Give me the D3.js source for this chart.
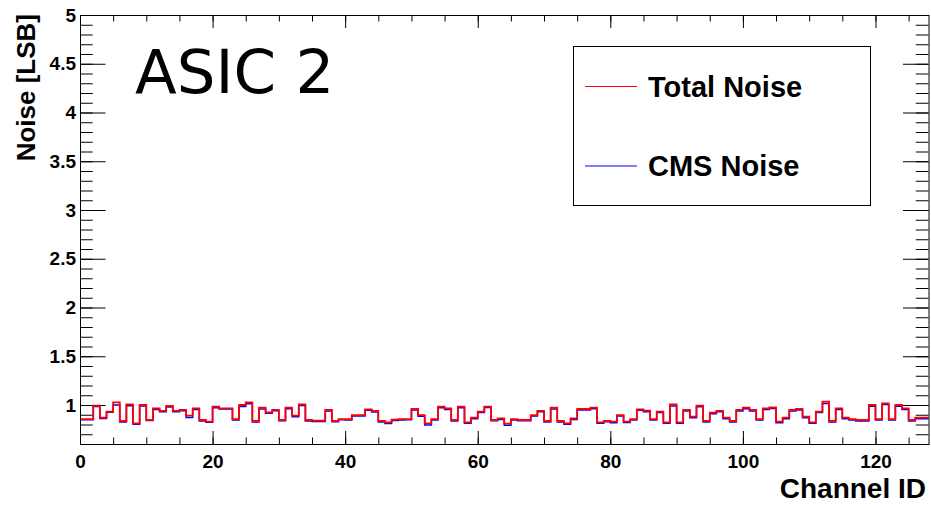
<!DOCTYPE html>
<html>
<head>
<meta charset="utf-8">
<script src="https://cdn.jsdelivr.net/npm/d3@7"></script>
<style>
  body { margin: 0; background: #fff; }
  svg { display: block; }
  text { font-family: "Liberation Sans", Arial, sans-serif; font-weight: bold; fill: #000; }
</style>
</head>
<body>
<svg id="chart" width="931" height="505"></svg>
<script>
// Per-channel noise of ASIC 2, in ADC LSB
const channels = d3.range(128);
const totalNoise = [
  0.856, 0.856, 0.993, 0.870, 0.932, 1.027, 0.836, 1.007, 0.812, 1.000, 0.846, 0.966, 0.939, 0.990, 0.939, 0.949,
  0.891, 0.966, 0.846, 0.829, 0.983, 0.966, 0.966, 0.856, 1.000, 1.027, 0.836, 0.973, 0.925, 0.949, 0.846, 0.973,
  0.891, 1.007, 0.846, 0.839, 0.839, 0.949, 0.836, 0.856, 0.856, 0.897, 0.897, 0.956, 0.939, 0.836, 0.822, 0.850,
  0.856, 0.856, 0.959, 0.897, 0.812, 0.856, 0.983, 0.966, 0.846, 0.983, 0.822, 0.870, 0.932, 0.983, 0.846, 0.863,
  0.809, 0.856, 0.846, 0.846, 0.897, 0.939, 0.836, 0.973, 0.836, 0.812, 0.863, 0.959, 0.959, 0.973, 0.822, 0.836,
  0.829, 0.897, 0.829, 0.856, 0.956, 0.942, 0.856, 0.932, 0.822, 1.007, 0.822, 0.949, 0.880, 0.993, 0.836, 0.921,
  0.939, 0.870, 0.836, 0.949, 0.973, 0.949, 0.856, 0.966, 0.976, 0.829, 0.870, 0.949, 0.959, 0.880, 0.822, 0.932,
  1.034, 0.836, 0.966, 0.870, 0.856, 0.846, 0.846, 1.000, 0.856, 1.017, 0.856, 1.000, 0.966, 0.846, 0.870, 0.870
];
const cmsNoise = [
  0.848, 0.850, 0.985, 0.862, 0.925, 1.000, 0.826, 0.992, 0.802, 0.990, 0.840, 0.955, 0.930, 0.980, 0.930, 0.940,
  0.872, 0.955, 0.836, 0.822, 0.972, 0.958, 0.958, 0.846, 0.985, 1.012, 0.826, 0.960, 0.915, 0.940, 0.838, 0.962,
  0.880, 0.995, 0.835, 0.832, 0.830, 0.938, 0.828, 0.848, 0.846, 0.888, 0.888, 0.945, 0.928, 0.826, 0.810, 0.840,
  0.846, 0.848, 0.948, 0.885, 0.795, 0.845, 0.972, 0.955, 0.835, 0.972, 0.812, 0.860, 0.922, 0.975, 0.838, 0.852,
  0.792, 0.846, 0.838, 0.838, 0.886, 0.930, 0.826, 0.960, 0.826, 0.802, 0.852, 0.948, 0.950, 0.962, 0.812, 0.828,
  0.818, 0.886, 0.820, 0.846, 0.945, 0.932, 0.846, 0.922, 0.812, 0.990, 0.812, 0.938, 0.870, 0.982, 0.826, 0.910,
  0.930, 0.860, 0.826, 0.938, 0.962, 0.938, 0.845, 0.955, 0.965, 0.818, 0.860, 0.938, 0.948, 0.870, 0.812, 0.922,
  1.015, 0.826, 0.955, 0.860, 0.846, 0.836, 0.836, 0.988, 0.846, 1.005, 0.846, 0.988, 0.955, 0.836, 0.860, 0.860
];
const xTicks = [0, 20, 40, 60, 80, 100, 120];
const xMinorTicks = d3.range(0, 129, 5);
const yTicks = [1, 1.5, 2, 2.5, 3, 3.5, 4, 4.5, 5];
const yMinorTicks = d3.range(6, 51).map(d => d / 10);
const seriesNames = ["Total Noise", "CMS Noise"];
const seriesColors = ["#ff0000", "#0000ff"];
const title = "ASIC 2";

const W = 931, H = 505;
const frame = { left: 80, right: 928.5, top: 15, bottom: 444 };

const svg = d3.select("#chart");
svg.append("rect").attr("width", W).attr("height", H).attr("fill", "#fff");

const x = d3.scaleLinear().domain([0, 128]).range([frame.left, frame.right]);
const y = d3.scaleLinear().domain([0.6, 5]).range([frame.bottom, frame.top]);

// ROOT-style ticks on all four sides, pointing into the frame
function drawAxis(axis, tx, ty) {
  const g = svg.append("g").attr("transform", `translate(${tx},${ty})`).call(axis);
  g.select(".domain").remove();
  g.selectAll(".tick line").attr("stroke", "#000").attr("stroke-width", 1);
  g.selectAll("text").attr("font-size", 19).attr("font-family", "'Liberation Sans', Arial, sans-serif")
    .attr("font-weight", "bold").attr("fill", "#000");
  return g;
}
const fmt = d => String(d);
const xMajor = 13, xMinor = 6.5, yMajor = 25.5, yMinor = 12.7;

drawAxis(d3.axisBottom(x).tickValues(xTicks).tickSize(-xMajor).tickPadding(11).tickFormat(fmt), 0, frame.bottom);
drawAxis(d3.axisBottom(x).tickValues(xMinorTicks).tickSize(-xMinor).tickFormat(""), 0, frame.bottom);
drawAxis(d3.axisTop(x).tickValues(xTicks).tickSize(-xMajor).tickFormat(""), 0, frame.top);
drawAxis(d3.axisTop(x).tickValues(xMinorTicks).tickSize(-xMinor).tickFormat(""), 0, frame.top);
drawAxis(d3.axisLeft(y).tickValues(yTicks).tickSize(-yMajor).tickPadding(4).tickFormat(fmt), frame.left, 0);
drawAxis(d3.axisLeft(y).tickValues(yMinorTicks).tickSize(-yMinor).tickFormat(""), frame.left, 0);
drawAxis(d3.axisRight(y).tickValues(yTicks).tickSize(-yMajor).tickFormat(""), frame.right, 0);
drawAxis(d3.axisRight(y).tickValues(yMinorTicks).tickSize(-yMinor).tickFormat(""), frame.right, 0);

// Histogram outlines (one step per channel bin)
const step = d3.line().x(d => x(d.c)).y(d => y(d.v)).curve(d3.curveStepAfter);
function binPoints(values) {
  const pts = channels.map(c => ({ c, v: values[c] }));
  pts.push({ c: channels.length, v: values[values.length - 1] });
  return pts;
}
svg.append("path").attr("d", step(binPoints(cmsNoise)))
  .attr("fill", "none").attr("stroke", seriesColors[1]).attr("stroke-width", 1.5);
svg.append("path").attr("d", step(binPoints(totalNoise)))
  .attr("fill", "none").attr("stroke", seriesColors[0]).attr("stroke-width", 1.8);

// Frame
svg.append("rect")
  .attr("x", frame.left + 0.5).attr("y", frame.top + 0.5)
  .attr("width", frame.right - frame.left).attr("height", frame.bottom - frame.top)
  .attr("fill", "none").attr("stroke", "#000").attr("stroke-width", 1);

// Axis titles
svg.append("text").attr("x", 926).attr("y", 498).attr("text-anchor", "end")
  .attr("font-size", 28).text("Channel ID");
svg.append("text").attr("transform", "translate(35,14) rotate(-90)").attr("text-anchor", "end")
  .attr("font-size", 26).text("Noise [LSB]");

// Title label inside the frame
svg.append("text").attr("x", 135).attr("y", 93)
  .style("font-family", "'DejaVu Sans', sans-serif").style("font-weight", "normal")
  .attr("font-size", 61).text(title);

// Legend
const legend = svg.append("g");
legend.append("rect").attr("x", 573.5).attr("y", 46.5).attr("width", 297).attr("height", 159)
  .attr("fill", "#fff").attr("stroke", "#000").attr("stroke-width", 1);
const legendRows = [86.5, 166];
seriesNames.forEach((name, i) => {
  legend.append("line").attr("x1", 585).attr("x2", 637)
    .attr("y1", legendRows[i]).attr("y2", legendRows[i])
    .attr("stroke", seriesColors[i]).attr("stroke-width", 1.2);
  legend.append("text").attr("x", 648).attr("y", legendRows[i] + 10)
    .attr("font-size", 29).text(name);
});
</script>
</body>
</html>
